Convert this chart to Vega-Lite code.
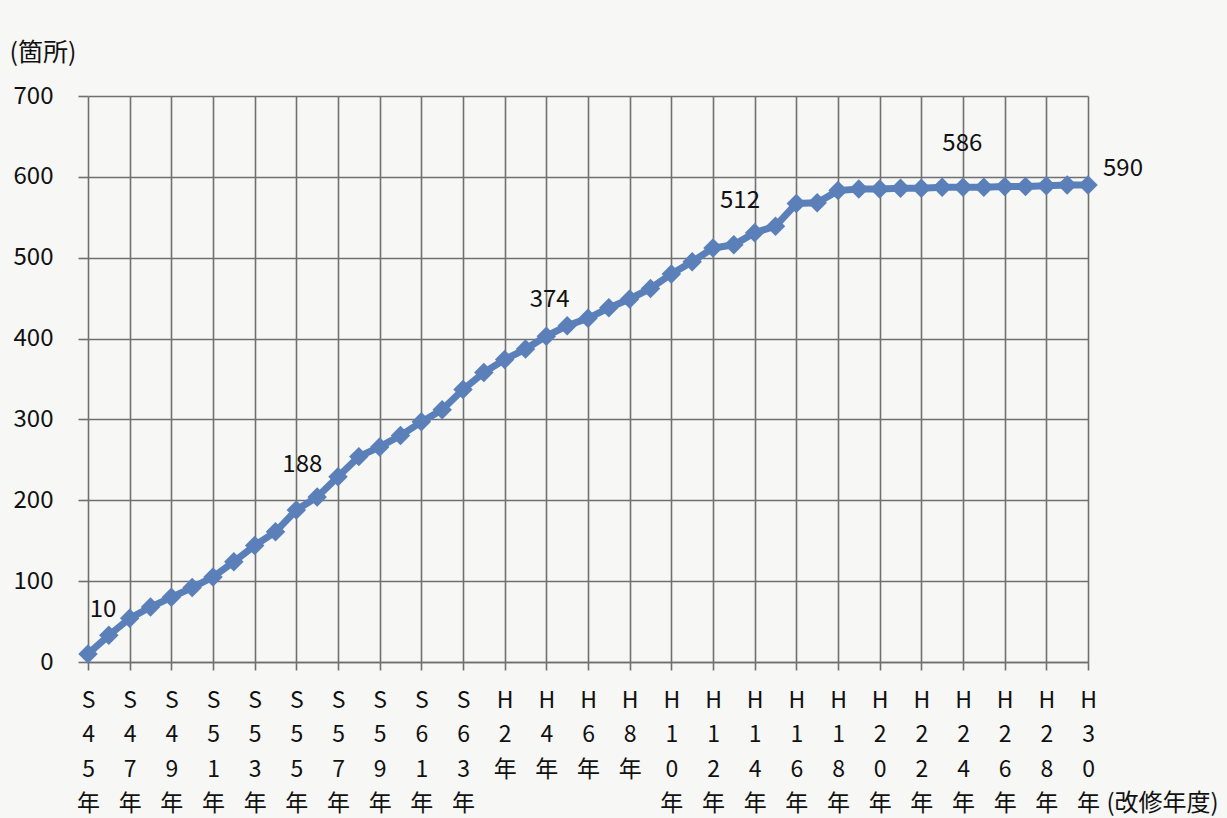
{
  "$schema": "https://vega.github.io/schema/vega-lite/v6.json",
  "width": 1000,
  "height": 566,
  "autosize": {"type": "none"},
  "padding": {"left": 88, "top": 96, "right": 139, "bottom": 156},
  "background": "#f7f7f5",
  "config": {
    "view": {"stroke": null},
    "font": "Noto Sans CJK JP",
    "axis": {"gridColor": "#707070", "gridWidth": 1.6, "gridOpacity": 1, "tickColor": "#707070", "tickWidth": 1.6, "domainColor": "#707070", "domainWidth": 1.6, "labelColor": "#111111", "titleColor": "#111111", "labelFont": "Noto Sans CJK JP", "titleFont": "Noto Sans CJK JP", "titleFontWeight": "normal"}
  },
  "data": {
    "values": [
      {"nendo": "S45年", "year": 1970, "count": 10},
      {"nendo": "S46年", "year": 1971, "count": 33},
      {"nendo": "S47年", "year": 1972, "count": 54},
      {"nendo": "S48年", "year": 1973, "count": 68},
      {"nendo": "S49年", "year": 1974, "count": 80},
      {"nendo": "S50年", "year": 1975, "count": 92},
      {"nendo": "S51年", "year": 1976, "count": 105},
      {"nendo": "S52年", "year": 1977, "count": 124},
      {"nendo": "S53年", "year": 1978, "count": 144},
      {"nendo": "S54年", "year": 1979, "count": 161},
      {"nendo": "S55年", "year": 1980, "count": 188},
      {"nendo": "S56年", "year": 1981, "count": 204},
      {"nendo": "S57年", "year": 1982, "count": 229},
      {"nendo": "S58年", "year": 1983, "count": 254},
      {"nendo": "S59年", "year": 1984, "count": 266},
      {"nendo": "S60年", "year": 1985, "count": 280},
      {"nendo": "S61年", "year": 1986, "count": 297},
      {"nendo": "S62年", "year": 1987, "count": 312},
      {"nendo": "S63年", "year": 1988, "count": 337},
      {"nendo": "H1年", "year": 1989, "count": 358},
      {"nendo": "H2年", "year": 1990, "count": 374},
      {"nendo": "H3年", "year": 1991, "count": 387},
      {"nendo": "H4年", "year": 1992, "count": 403},
      {"nendo": "H5年", "year": 1993, "count": 416},
      {"nendo": "H6年", "year": 1994, "count": 425},
      {"nendo": "H7年", "year": 1995, "count": 438},
      {"nendo": "H8年", "year": 1996, "count": 449},
      {"nendo": "H9年", "year": 1997, "count": 462},
      {"nendo": "H10年", "year": 1998, "count": 480},
      {"nendo": "H11年", "year": 1999, "count": 495},
      {"nendo": "H12年", "year": 2000, "count": 512},
      {"nendo": "H13年", "year": 2001, "count": 516},
      {"nendo": "H14年", "year": 2002, "count": 531},
      {"nendo": "H15年", "year": 2003, "count": 539},
      {"nendo": "H16年", "year": 2004, "count": 567},
      {"nendo": "H17年", "year": 2005, "count": 568},
      {"nendo": "H18年", "year": 2006, "count": 583},
      {"nendo": "H19年", "year": 2007, "count": 585},
      {"nendo": "H20年", "year": 2008, "count": 585},
      {"nendo": "H21年", "year": 2009, "count": 586},
      {"nendo": "H22年", "year": 2010, "count": 586},
      {"nendo": "H23年", "year": 2011, "count": 587},
      {"nendo": "H24年", "year": 2012, "count": 587},
      {"nendo": "H25年", "year": 2013, "count": 587},
      {"nendo": "H26年", "year": 2014, "count": 588},
      {"nendo": "H27年", "year": 2015, "count": 588},
      {"nendo": "H28年", "year": 2016, "count": 589},
      {"nendo": "H29年", "year": 2017, "count": 590},
      {"nendo": "H30年", "year": 2018, "count": 590}
    ]
  },
  "encoding": {
    "x": {
      "field": "nendo",
      "type": "ordinal",
      "sort": null,
      "scale": {"type": "point", "padding": 0},
      "axis": {
        "values": ["S45年","S47年","S49年","S51年","S53年","S55年","S57年","S59年","S61年","S63年","H2年","H4年","H6年","H8年","H10年","H12年","H14年","H16年","H18年","H20年","H22年","H24年","H26年","H28年","H30年"],
        "labelExpr": "split(datum.label, '')",
        "labelAngle": 0,
        "labelAlign": "center",
        "labelBaseline": "top",
        "labelFontSize": 23,
        "labelLineHeight": 34.5,
        "labelPadding": 19,
        "tickSize": 8,
        "grid": true,
        "title": "(改修年度)",
        "titleFontSize": 24,
        "titleAlign": "left",
        "titleBaseline": "middle",
        "titleAnchor": "start",
        "titleX": 1018,
        "titleY": 141
      }
    },
    "y": {
      "field": "count",
      "type": "quantitative",
      "scale": {"domain": [0, 700], "nice": false},
      "axis": {
        "values": [0, 100, 200, 300, 400, 500, 600, 700],
        "labelFontSize": 24,
        "labelPadding": 25,
        "tickSize": 10,
        "domain": false,
        "grid": true,
        "title": "(箇所)",
        "titleFontSize": 25,
        "titleAngle": 0,
        "titleAlign": "left",
        "titleBaseline": "middle",
        "titleAnchor": "start",
        "titleX": -79,
        "titleY": -44
      }
    }
  },
  "layer": [
    {"mark": {"type": "line", "color": "#5b80b9", "strokeWidth": 7}},
    {"mark": {"type": "point", "shape": "diamond", "filled": true, "size": 380, "color": "#5b80b9", "opacity": 1}},
    {"transform": [{"filter": "datum.year == 1970"}], "mark": {"type": "text", "fontSize": 24, "color": "#111111", "dx": 15, "dy": -44}, "encoding": {"text": {"field": "count"}}},
    {"transform": [{"filter": "datum.year == 1980"}], "mark": {"type": "text", "fontSize": 24, "color": "#111111", "dx": 6, "dy": -45}, "encoding": {"text": {"field": "count"}}},
    {"transform": [{"filter": "datum.year == 1990"}], "mark": {"type": "text", "fontSize": 24, "color": "#111111", "dx": 45, "dy": -60}, "encoding": {"text": {"field": "count"}}},
    {"transform": [{"filter": "datum.year == 2000"}], "mark": {"type": "text", "fontSize": 24, "color": "#111111", "dx": 27, "dy": -47}, "encoding": {"text": {"field": "count"}}},
    {"transform": [{"filter": "datum.year == 2010"}], "mark": {"type": "text", "fontSize": 24, "color": "#111111", "dx": 41, "dy": -44}, "encoding": {"text": {"field": "count"}}},
    {"transform": [{"filter": "datum.year == 2018"}], "mark": {"type": "text", "fontSize": 24, "color": "#111111", "dx": 35, "dy": -16}, "encoding": {"text": {"field": "count"}}}
  ]
}
